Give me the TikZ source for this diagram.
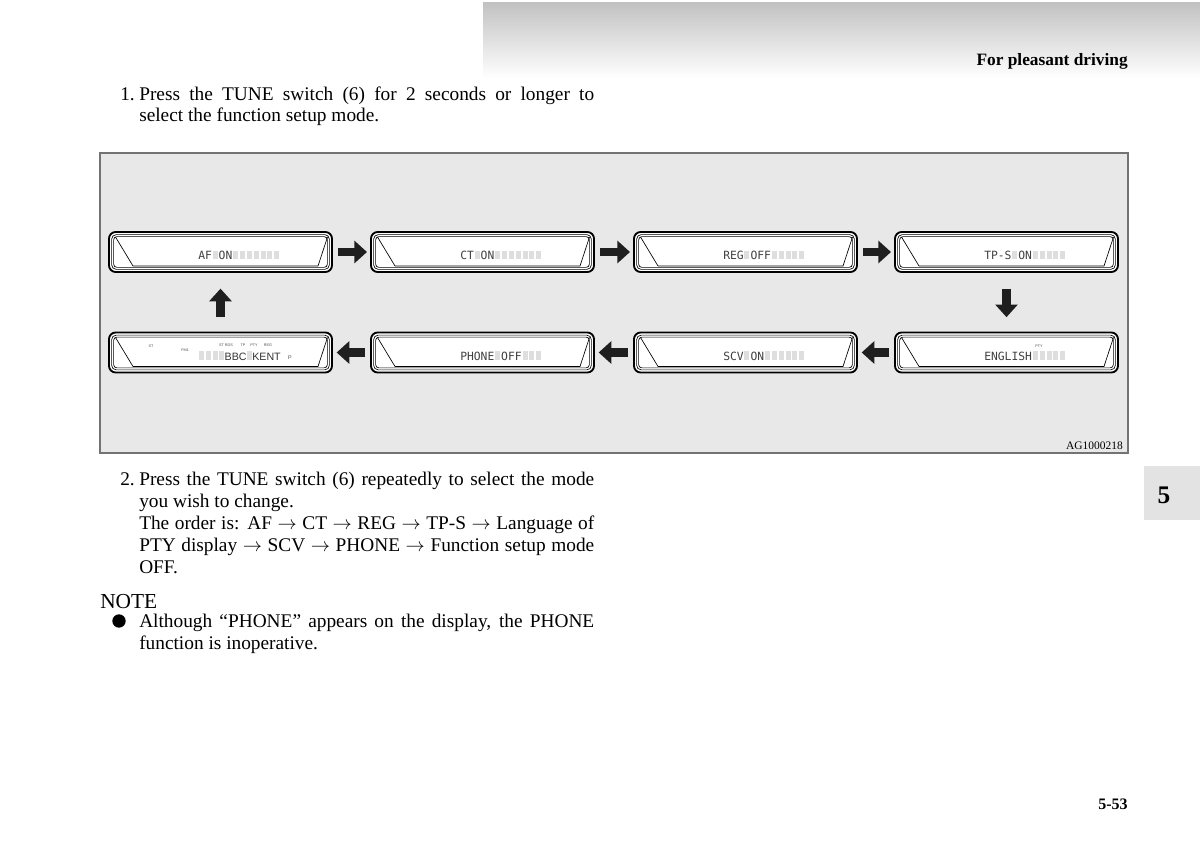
\documentclass[tikz,border=0pt]{standalone}
\usepackage{fontspec}
\setmainfont{Liberation Serif}
\newfontfamily\lcdfont{DejaVu Sans Mono}
\newfontfamily\lcdsans{Liberation Sans}
\usetikzlibrary{arrows.meta,calc}

\tikzset{
  disp/.style={rectangle, rounded corners=5pt, draw=black, line width=1.4pt, fill=white,
    minimum width=167.25pt, minimum height=30pt, inner sep=0pt, outer sep=0pt},
  dline/.style={line width=0.5pt, draw=black},
  lcdoff/.style={fill=black!13},
  lcdtxt/.style={anchor=base west, inner sep=0pt, text=black!75,
    font=\lcdfont\fontsize{8.5pt}{8.5pt}\selectfont},
  tiny/.style={inner sep=0pt, text=black!70, font=\lcdsans\fontsize{2.8pt}{3pt}\selectfont},
  conn/.style={line width=6.5pt, draw=black!88, -{Triangle[length=9.5pt,width=16.5pt]}},
  body/.style={anchor=base west, inner sep=0pt, font=\fontsize{14.5pt}{16pt}\selectfont},
}

\newcommand{\dispbox}[3]{%
  \node[disp] (#1) at (#2,#3) {};
  \draw[dline, rounded corners=3.5pt] ($(#1.north west)+(2.6,2.6)$) rectangle ($(#1.south east)+(-2.6,-2.6)$);
  \draw[dline, rounded corners=2.5pt] ($(#1.north west)+(4.6,4.6)$) rectangle ($(#1.south east)+(-4.6,-4.6)$);
  \draw[dline] ($(#1.north west)+(6.5,5)$) -- ($(#1.south west)+(24,-6)$) -- ($(#1.south east)+(-14,-6)$) -- ($(#1.north east)+(-4.5,5)$);
}
\newcommand{\lcd}[3]{%
  \foreach \i in {#2}{\fill[lcdoff] ($(#1.west)+(89+\i*6.85+0.9,-1.5)$) rectangle ++(5,8.5);}
  \node[lcdtxt] (#1-txt) at ($(#1.west)+(89,7.5)$) {#3};
}

\begin{document}
\begin{tikzpicture}[x=0.75pt,y=-0.75pt]
\useasboundingbox (0,0) rectangle (1200,856);
\fill[white] (0,0) rectangle (1200,856);

% header band
\shade[top color=black!24, bottom color=white] (483,3) rectangle (1200,78);
\node[anchor=base east, inner sep=0pt, font=\bfseries\fontsize{13pt}{15pt}\selectfont] (hdr) at (1128,65) {For pleasant driving};

% body text top
\node[body] (n1) at (120,100) {1.};
\node[body] (l1) at (139,100) {\makebox[341.25pt][s]{Press the TUNE switch (6) for 2 seconds or longer to}};
\node[body] (l2) at (139,122) {select the function setup mode.};

% figure frame
\draw[draw=black!55, fill=black!9, line width=0.8pt] (100,153) rectangle (1128,453);
\node[anchor=base east, inner sep=0pt, font=\fontsize{8.6pt}{10pt}\selectfont] (fig) at (1123,449) {AG1000218};

% displays
\dispbox{d1}{220.5}{252}
\dispbox{d2}{482.5}{252}
\dispbox{d3}{745.5}{252}
\dispbox{d4}{1006.5}{252}
\dispbox{d5}{1006.5}{352.5}
\dispbox{d6}{745.5}{352.5}
\dispbox{d7}{482.5}{352.5}
\dispbox{d8}{220.5}{352.5}

\lcd{d1}{2,5,6,...,11}{AF ON}
\lcd{d2}{2,5,6,...,11}{CT ON}
\lcd{d3}{3,7,8,...,11}{REG OFF}
\lcd{d4}{4,7,8,...,11}{TP-S ON}
\lcd{d5}{7,8,...,11}{ENGLISH}
\lcd{d6}{3,6,7,...,11}{SCV ON}
\lcd{d7}{5,9,10,11}{PHONE OFF}
% bottom-left display
\foreach \i in {0,1,2,3,7}{\fill[lcdoff] ($(d8.west)+(89+\i*6.85+0.9,-1.5)$) rectangle ++(5,8.5);}
\node[anchor=base, inner sep=0pt, text=black!80, font=\lcdsans\fontsize{8pt}{8pt}\selectfont] (bbc) at ($(d8.west)+(89+5.5*6.85,8)$) {BBC};
\node[anchor=base, inner sep=0pt, text=black!80, font=\lcdsans\fontsize{8pt}{8pt}\selectfont] (kent) at ($(d8.west)+(89+10*6.85,8)$) {KENT};
\node[tiny] (tst) at (151,346) {ST};
\node[tiny] (tfm) at (185,350) {FM1};
\node[tiny] (trds) at (226,345.5) {ST RDS};
\node[tiny] (ttp) at (243,345.5) {TP};
\node[tiny] (tpty) at (254,345.5) {PTY};
\node[tiny] (treg) at (268,345.5) {REG};
\node[tiny, font=\lcdsans\fontsize{4pt}{4pt}\selectfont] (tp) at (290,358) {P};
\node[tiny] (epty) at (1039,346) {PTY};

% connectors
\draw[conn, shorten <=4.5pt, shorten >=3pt] (d1.east) -- (d2.west);
\draw[conn, shorten <=4.5pt, shorten >=3pt] (d2.east) -- (d3.west);
\draw[conn, shorten <=4.5pt, shorten >=3pt] (d3.east) -- (d4.west);
\draw[conn, shorten <=12.5pt, shorten >=11.5pt] (d4.south) -- (d5.north);
\draw[conn, shorten <=4.5pt, shorten >=3.5pt] (d5.west) -- (d6.east);
\draw[conn, shorten <=4.5pt, shorten >=3.5pt] (d6.west) -- (d7.east);
\draw[conn, shorten <=4.5pt, shorten >=3.5pt] (d7.west) -- (d8.east);
\draw[conn, shorten <=11.5pt, shorten >=12.5pt] (d8.north) -- (d1.south);

% body text lower
\node[body] (n2) at (120,485) {2.};
\node[body] (l3) at (139,485) {\makebox[341.25pt][s]{Press the TUNE switch (6) repeatedly to select the mode}};
\node[body] (l4) at (139,507) {you wish to change.};
\node[body] (l5) at (139,529) {\makebox[341.25pt][s]{The order is: AF $\rightarrow$ CT $\rightarrow$ REG $\rightarrow$ TP-S $\rightarrow$ Language of}};
\node[body] (l6) at (139,551) {\makebox[341.25pt][s]{PTY display $\rightarrow$ SCV $\rightarrow$ PHONE $\rightarrow$ Function setup mode}};
\node[body] (l7) at (139,573) {OFF.};
\node[body, font=\fontsize{16pt}{18pt}\selectfont] (note) at (100,608) {NOTE};
\fill (119,621) circle[radius=5pt];
\node[body] (l8) at (139,627) {\makebox[341.25pt][s]{Although “PHONE” appears on the display, the PHONE}};
\node[body] (l9) at (139,649) {function is inoperative.};

% side tab
\fill[black!11] (1144,466) rectangle (1200,520);
\node[anchor=base, inner sep=0pt, font=\bfseries\fontsize{19pt}{20pt}\selectfont] (tab) at (1164,503) {5};

% page number
\node[anchor=base east, inner sep=0pt, font=\bfseries\fontsize{12pt}{14pt}\selectfont] (pg) at (1128,809) {5-53};
\end{tikzpicture}
\end{document}
